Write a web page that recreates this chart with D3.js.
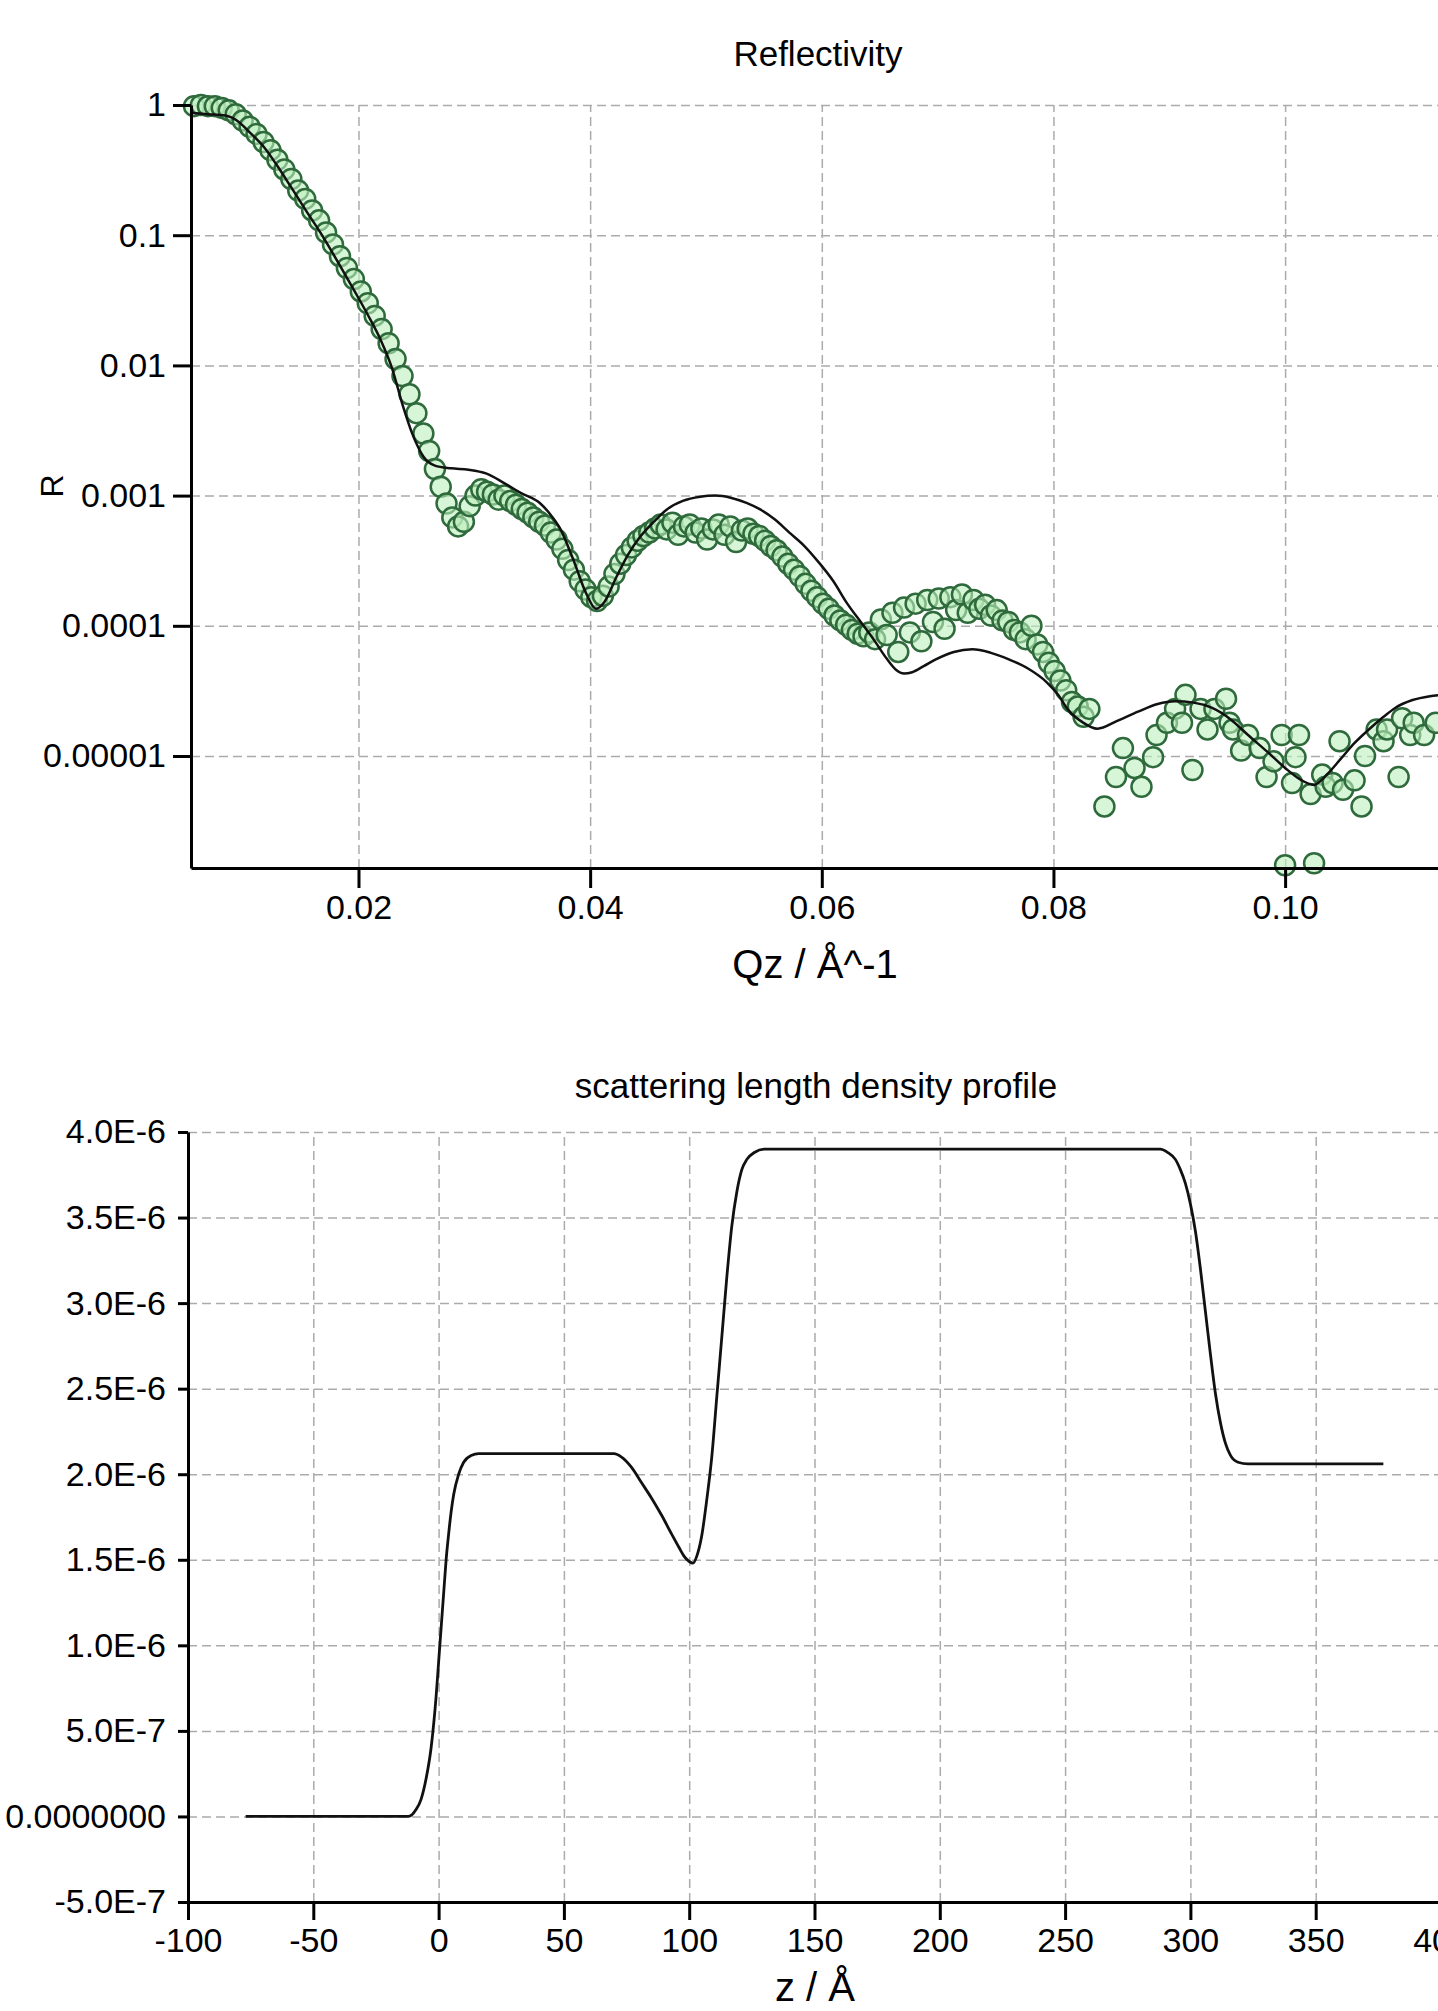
<!DOCTYPE html>
<html>
<head>
<meta charset="utf-8">
<script src="https://cdnjs.cloudflare.com/ajax/libs/d3/7.8.5/d3.min.js"></script>
<style>
  body { margin: 0; background: #fff; }
  text { font-family: 'Liberation Sans', Arial, sans-serif; fill: #000; }
  .grid line { stroke: #ababab; stroke-width: 1.5; stroke-dasharray: 9,5; }
  .grid path { display: none; }
  .axis path, .axis line { stroke: #000; stroke-width: 3; }
</style>
</head>
<body>
<script>
var WIDTH = 1438, HEIGHT = 2011;
var TICK_FONT = 34, TITLE_FONT = 35, AXIS_TITLE_FONT = 40;

// measured reflectivity (open circles)
var qData = [0.0058,0.0064,0.0070,0.0076,0.0082,0.0088,0.0094,0.0100,0.0106,0.0112,0.0118,0.0124,0.0130,0.0136,0.0142,0.0148,0.0154,0.0160,0.0166,0.0172,
    0.0178,0.0184,0.0190,0.0196,0.0202,0.0208,0.0214,0.0220,0.0226,0.0232,0.0238,0.0244,0.0250,0.0256,0.0261,0.0266,0.0271,0.0276,0.0281,0.0286,
    0.0291,0.0296,0.0301,0.0306,0.0311,0.0316,0.0321,0.0326,0.0331,0.0336,0.0341,0.0346,0.0351,0.0356,0.0361,0.0366,0.0371,0.0376,0.0381,0.0386,
    0.0391,0.0396,0.0401,0.0406,0.0411,0.0416,0.0421,0.0426,0.0431,0.0436,0.0441,0.0446,0.0451,0.0456,0.0461,0.0466,0.0471,0.0476,0.0481,0.0486,
    0.0491,0.0496,0.0501,0.0506,0.0511,0.0516,0.0521,0.0526,0.0531,0.0536,0.0541,0.0546,0.0551,0.0556,0.0561,0.0566,0.0571,0.0576,0.0581,0.0586,
    0.0591,0.0596,0.0601,0.0606,0.0611,0.0616,0.0621,0.0626,0.0631,0.0636,0.0641,0.0646,0.0651,0.0656,0.0661,0.0666,0.0671,0.0676,0.0681,0.0686,
    0.0691,0.0696,0.0701,0.0706,0.0711,0.0716,0.0721,0.0726,0.0731,0.0736,0.0741,0.0746,0.0751,0.0756,0.0761,0.0766,0.0771,0.0776,0.0781,0.0786,
    0.0791,0.0796,0.0801,0.0806,0.0811,0.0816,0.0821,0.0826,0.0831,
    0.0844,0.0854,0.0860,0.0870,0.0876,0.0886,0.0889,0.0898,0.0905,0.0911,0.0914,0.0920,0.0927,0.0933,0.0939,0.0949,0.0952,0.0955,0.0962,0.0968,
    0.0978,0.0984,0.0990,0.0997,0.1000,0.1006,0.1009,0.1012,0.1022,0.1025,0.1032,0.1035,0.1041,0.1047,0.1050,0.1060,0.1066,0.1069,0.1079,0.1085,
    0.1088,0.1098,0.1101,0.1108,0.1111,0.1120,0.1130];
var rData = [0.98,1.0,0.98,0.98,0.95,0.91,0.85,0.76,0.68,0.60,0.52,0.45,0.38,0.32,0.27,0.22,0.19,0.155,0.13,0.105,
    0.085,0.069,0.056,0.046,0.037,0.030,0.024,0.019,0.0148,0.0112,0.0083,0.0060,0.0043,0.0030,0.0022,0.0016,0.00117,0.00087,0.00068,0.00058,
    0.00063,0.00083,0.0010,0.00112,0.00107,0.00102,0.00093,0.0010,0.00091,0.00085,0.00079,0.00074,0.00068,0.00063,0.00059,0.00052,0.00046,0.00039,0.00032,0.00027,
    0.00022,0.00019,0.000166,0.000155,0.00017,0.0002,0.00025,0.0003,0.00035,0.0004,0.00045,0.00049,0.00052,0.00056,0.0006,0.00055,0.00062,0.0005,0.00058,0.0006,
    0.00052,0.00056,0.00046,0.00055,0.0006,0.0005,0.00058,0.00044,0.00054,0.00056,0.00051,0.00049,0.00045,0.00041,0.00038,0.00034,0.0003,0.00027,0.00024,0.00021,
    0.000186,0.000166,0.000148,0.000135,0.00012,0.00011,0.000102,0.000093,0.000087,0.000083,0.000089,0.000079,0.000112,0.000085,0.000126,0.000063,0.000138,0.000089,0.000148,0.000076,
    0.000158,0.000107,0.000162,0.000095,0.000166,0.000132,0.000174,0.000126,0.000158,0.000135,0.000145,0.00012,0.000132,0.00011,0.000107,0.000093,0.000089,0.000079,0.0001,0.000072,
    0.000063,0.000052,0.000045,0.000038,0.000032,0.000026,0.000024,0.00002,0.000023,
    4.1e-6,6.9e-6,1.15e-5,8.1e-6,5.8e-6,9.8e-6,1.45e-5,1.8e-5,2.3e-5,1.8e-5,2.95e-5,7.8e-6,2.3e-5,1.6e-5,2.3e-5,2.75e-5,1.8e-5,1.6e-5,1.1e-5,1.45e-5,
    1.15e-5,6.9e-6,9.1e-6,1.45e-5,1.45e-6,6.2e-6,9.8e-6,1.45e-5,5.1e-6,1.5e-6,7.2e-6,5.8e-6,6.2e-6,1.3e-5,5.5e-6,6.5e-6,4.1e-6,1.0e-5,1.6e-5,1.3e-5,
    1.6e-5,6.9e-6,1.95e-5,1.45e-5,1.8e-5,1.45e-5,1.8e-5];

// fitted model curve
var qFit = [0.0056,0.0070,0.0085,0.0095,0.0105,0.0118,0.0130,0.0141,0.0154,0.0167,0.0181,0.0196,0.0208,0.0219,0.0229,0.0238,0.0247,0.0256,0.0266,0.0280,
    0.0295,0.0310,0.0325,0.0340,0.0357,0.0366,0.0374,0.0385,0.0397,0.0405,0.0412,0.0423,0.0433,0.0443,0.0455,0.0466,0.0480,0.0495,0.0508,0.0522,
    0.0535,0.0546,0.0559,0.0572,0.0585,0.0597,0.0610,0.0622,0.0634,0.0645,0.0656,0.0664,0.0671,0.0678,0.0688,0.0698,0.0714,0.0730,0.0746,0.0762,0.0778,
    0.0794,0.0804,0.0813,0.0825,0.0838,0.0855,0.0873,0.0890,0.0905,0.0921,0.0937,0.0953,0.0968,0.0985,0.1000,0.1013,0.1025,0.1036,0.1048,0.1060,
    0.1073,0.1085,0.1095,0.1110,0.1125,0.1135];
var rFit = [0.87,0.85,0.83,0.76,0.63,0.48,0.34,0.24,0.158,0.105,0.065,0.038,0.0245,0.0158,0.0095,0.0050,0.0029,0.0020,0.0017,0.00162,
    0.00158,0.00148,0.00126,0.00105,0.00087,0.00071,0.00056,0.00033,0.000174,0.000135,0.000151,0.00024,0.000355,0.00048,0.00063,0.00078,0.00091,0.00098,0.0010,0.00096,
    0.00088,0.00079,0.00066,0.00052,0.00041,0.00031,0.00022,0.000148,0.000106,0.000078,0.000056,0.000046,0.000043,0.000044,0.000049,0.000055,0.000063,0.000066,0.000062,0.000055,0.000047,
    0.000037,0.0000295,0.0000224,0.0000182,0.0000162,0.0000186,0.0000219,0.0000251,0.0000263,0.0000257,0.0000234,0.0000191,0.0000145,0.0000107,0.0000081,0.0000066,0.000006,0.0000072,0.0000095,0.0000126,
    0.0000162,0.00002,0.0000234,0.0000269,0.0000288,0.0000295];

var rTickValues = [1, 0.1, 0.01, 0.001, 0.0001, 0.00001];
var rTickLabels = ['1', '0.1', '0.01', '0.001', '0.0001', '0.00001'];
var qTickValues = [0.02, 0.04, 0.06, 0.08, 0.10];
var qTickLabels = ['0.02', '0.04', '0.06', '0.08', '0.10'];

// scattering length density profile
var zProfile = [-77,-20,-12,-9,-7,-5,-3,-1,0,1,2,3,4,5,6,8,10,13,16,70,
    73,77,81,85,89,93,96,98,100,101.5,103,105,107,109,111,113,115,117,119,121,
    123,126,130,288,291,294,296,298,300,302,304,306,308,310,312,314,316,319,323,377];
var sldProfile = [0,0,0,0.04e-6,0.1e-6,0.22e-6,0.4e-6,0.7e-6,0.9e-6,1.1e-6,1.3e-6,1.5e-6,1.65e-6,1.78e-6,1.88e-6,2.0e-6,2.07e-6,2.11e-6,2.12e-6,2.12e-6,
    2.10e-6,2.04e-6,1.95e-6,1.86e-6,1.76e-6,1.65e-6,1.57e-6,1.52e-6,1.49e-6,1.48e-6,1.52e-6,1.64e-6,1.85e-6,2.1e-6,2.45e-6,2.8e-6,3.15e-6,3.45e-6,3.65e-6,3.78e-6,
    3.84e-6,3.88e-6,3.9e-6,3.9e-6,3.88e-6,3.84e-6,3.78e-6,3.7e-6,3.58e-6,3.42e-6,3.2e-6,2.95e-6,2.7e-6,2.47e-6,2.3e-6,2.18e-6,2.11e-6,2.07e-6,2.06e-6,2.06e-6];

var zTickValues = [-100, -50, 0, 50, 100, 150, 200, 250, 300, 350, 400];
var zTickLabels = ['-100', '-50', '0', '50', '100', '150', '200', '250', '300', '350', '400'];
var sldTickValues = [-5e-7, 0, 5e-7, 1e-6, 1.5e-6, 2e-6, 2.5e-6, 3e-6, 3.5e-6, 4e-6];
var sldTickLabels = ['-5.0E-7', '0.0000000', '5.0E-7', '1.0E-6', '1.5E-6', '2.0E-6', '2.5E-6', '3.0E-6', '3.5E-6', '4.0E-6'];

var svg = d3.select('body').append('svg').attr('width', WIDTH).attr('height', HEIGHT);

// ---------- reflectivity ----------
var xR = d3.scaleLinear().domain([0.00554, 0.1132]).range([191, WIDTH]);
var yR = d3.scaleLog().domain([1.38e-6, 1]).range([868, 105]);

svg.append('g').attr('class', 'grid')
    .attr('transform', 'translate(191,0)')
    .call(d3.axisLeft(yR).tickValues(rTickValues).tickSize(-(WIDTH - 191)).tickFormat(''));
svg.append('g').attr('class', 'grid')
    .attr('transform', 'translate(0,868)')
    .call(d3.axisBottom(xR).tickValues(qTickValues).tickSize(-(868 - 105)).tickFormat(''));

svg.selectAll('circle.data')
    .data(d3.zip(qData, rData))
    .enter().append('circle')
    .attr('class', 'data')
    .attr('cx', d => xR(d[0]))
    .attr('cy', d => yR(d[1]))
    .attr('r', 10)
    .attr('fill', '#bdeebd')
    .attr('fill-opacity', 0.6)
    .attr('stroke', '#2e6a3b')
    .attr('stroke-width', 2.5);

var fitLine = d3.line()
    .x(d => xR(d[0]))
    .y(d => yR(d[1]))
    .curve(d3.curveMonotoneX);

svg.append('path')
    .datum(d3.zip(qFit, rFit))
    .attr('d', fitLine)
    .attr('fill', 'none')
    .attr('stroke', '#111')
    .attr('stroke-width', 2.5);

var yAxisR = svg.append('g').attr('class', 'axis')
    .attr('transform', 'translate(191,0)')
    .call(d3.axisLeft(yR).tickValues(rTickValues).tickSize(18).tickSizeOuter(0).tickPadding(7)
        .tickFormat((d, i) => rTickLabels[i]));
var xAxisR = svg.append('g').attr('class', 'axis')
    .attr('transform', 'translate(0,868)')
    .call(d3.axisBottom(xR).tickValues(qTickValues).tickSize(20).tickSizeOuter(0).tickPadding(7)
        .tickFormat((d, i) => qTickLabels[i]));

svg.append('text')
    .attr('x', 818).attr('y', 66)
    .attr('text-anchor', 'middle')
    .attr('font-size', TITLE_FONT)
    .text('Reflectivity');

svg.append('text')
    .attr('x', 815).attr('y', 978)
    .attr('text-anchor', 'middle')
    .attr('font-size', AXIS_TITLE_FONT)
    .text('Qz / Å^-1');

svg.append('text')
    .attr('transform', 'translate(52,486) rotate(-90)')
    .attr('text-anchor', 'middle')
    .attr('dominant-baseline', 'central')
    .attr('font-size', 32)
    .text('R');

// ---------- SLD profile ----------
var xS = d3.scaleLinear().domain([-100, 400]).range([188, 1441]);
var yS = d3.scaleLinear().domain([-5e-7, 4e-6]).range([1902, 1132]);

svg.append('g').attr('class', 'grid')
    .attr('transform', 'translate(188,0)')
    .call(d3.axisLeft(yS).tickValues(sldTickValues.slice(1)).tickSize(-(WIDTH - 188)).tickFormat(''));
svg.append('g').attr('class', 'grid')
    .attr('transform', 'translate(0,1902)')
    .call(d3.axisBottom(xS).tickValues(zTickValues.slice(1)).tickSize(-(1902 - 1132)).tickFormat(''));

var profileLine = d3.line()
    .x(d => xS(d[0]))
    .y(d => yS(d[1]))
    .curve(d3.curveMonotoneX);

svg.append('path')
    .datum(d3.zip(zProfile, sldProfile))
    .attr('d', profileLine)
    .attr('fill', 'none')
    .attr('stroke', '#111')
    .attr('stroke-width', 2.8);

var yAxisS = svg.append('g').attr('class', 'axis')
    .attr('transform', 'translate(188,0)')
    .call(d3.axisLeft(yS).tickValues(sldTickValues).tickSize(10).tickSizeOuter(0).tickPadding(12)
        .tickFormat((d, i) => sldTickLabels[i]));
var xAxisS = svg.append('g').attr('class', 'axis')
    .attr('transform', 'translate(0,1902)')
    .call(d3.axisBottom(xS).tickValues(zTickValues).tickSize(18).tickSizeOuter(0).tickPadding(8)
        .tickFormat((d, i) => zTickLabels[i]));

svg.append('text')
    .attr('x', 816).attr('y', 1098)
    .attr('text-anchor', 'middle')
    .attr('font-size', TITLE_FONT)
    .text('scattering length density profile');

svg.append('text')
    .attr('x', 815).attr('y', 2001)
    .attr('text-anchor', 'middle')
    .attr('font-size', AXIS_TITLE_FONT)
    .text('z / Å');

svg.selectAll('.axis text')
    .attr('font-size', TICK_FONT)
    .attr('font-family', "'Liberation Sans', Arial, sans-serif")
    .attr('fill', '#000');
</script>
</body>
</html>
